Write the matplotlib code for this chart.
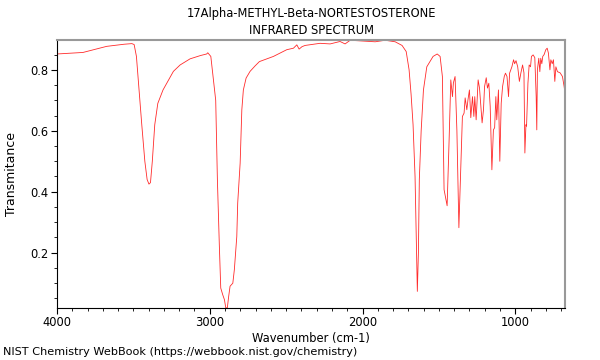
import matplotlib
matplotlib.use("Agg")
import matplotlib.pyplot as plt
from matplotlib.ticker import MultipleLocator

# wavenumber (cm-1) and transmittance
wavenumber = [
    4000, 3830, 3675, 3560, 3510, 3495, 3480, 3463, 3445, 3425, 3410, 3398,
    3388, 3376, 3360, 3340, 3306, 3238, 3194, 3129, 3060, 3020, 3013, 2993,
    2976, 2961, 2950, 2937, 2928, 2915, 2904, 2895, 2885, 2876, 2867, 2849,
    2839, 2823, 2817, 2801, 2790, 2780, 2762, 2736, 2703, 2675, 2659, 2583,
    2496, 2452, 2430, 2415, 2396, 2376, 2278, 2212, 2147, 2114, 2081, 2016,
    1917, 1852, 1786, 1741, 1714, 1695, 1682, 1669, 1656, 1646, 1641, 1634,
    1628, 1616, 1601, 1579, 1538, 1511, 1492, 1477, 1466, 1446, 1433, 1422,
    1411, 1405, 1394, 1382, 1369, 1356, 1346, 1335, 1328, 1317, 1310, 1300,
    1291, 1280, 1271, 1265, 1256, 1243, 1234, 1225, 1217, 1208, 1201, 1190,
    1182, 1173, 1164, 1153, 1143, 1135, 1127, 1121, 1110, 1101, 1092, 1083,
    1072, 1064, 1054, 1044, 1037, 1022, 1011, 1004, 995, 984, 973, 963,
    952, 943, 937, 930, 926, 917, 909, 900, 894, 883, 872, 863,
    859, 855, 846, 839, 833, 826, 820, 811, 800, 791, 783, 773,
    767, 758, 750, 741, 734, 724, 706, 691, 680, 673,
]
transmittance = [
    0.852, 0.857, 0.877, 0.884, 0.886, 0.883, 0.844, 0.734, 0.62, 0.50, 0.44, 0.425,
    0.43, 0.50, 0.62, 0.69, 0.734, 0.795, 0.816, 0.836, 0.847, 0.852, 0.856, 0.844,
    0.767, 0.70, 0.44, 0.22, 0.084, 0.062, 0.046, 0.019, 0.019, 0.057, 0.09, 0.10,
    0.144, 0.253, 0.363, 0.494, 0.669, 0.734, 0.773, 0.795, 0.813, 0.827, 0.83, 0.844,
    0.866, 0.871, 0.882, 0.868, 0.876, 0.88, 0.887, 0.885, 0.893, 0.885, 0.897, 0.895,
    0.892, 0.897, 0.892, 0.88, 0.86, 0.80, 0.72, 0.62, 0.45, 0.20, 0.073, 0.20,
    0.44, 0.60, 0.734, 0.81, 0.844, 0.852, 0.844, 0.778, 0.407, 0.354, 0.57, 0.767,
    0.712, 0.757, 0.778, 0.60, 0.282, 0.49, 0.647, 0.658, 0.708, 0.669, 0.70, 0.734,
    0.643, 0.712, 0.647, 0.712, 0.636, 0.767, 0.74, 0.68, 0.626, 0.669, 0.745, 0.774,
    0.74, 0.756, 0.68, 0.472, 0.603, 0.61, 0.712, 0.636, 0.734, 0.50, 0.69, 0.745,
    0.778, 0.789, 0.778, 0.712, 0.789, 0.81, 0.833, 0.82, 0.83, 0.81, 0.762, 0.79,
    0.816, 0.79, 0.527, 0.62, 0.615, 0.756, 0.816, 0.81, 0.844, 0.849, 0.84, 0.712,
    0.603, 0.80, 0.838, 0.794, 0.838, 0.82, 0.844, 0.85, 0.866, 0.871, 0.855, 0.80,
    0.833, 0.82, 0.833, 0.762, 0.81, 0.794, 0.79, 0.778, 0.745, 0.718,
]

title = "17Alpha-METHYL-Beta-NORTESTOSTERONE\nINFRARED SPECTRUM"
footer = "NIST Chemistry WebBook (https://webbook.nist.gov/chemistry)"

fig = plt.figure(figsize=(6, 3.6), dpi=100)
ax = fig.add_axes([0.095, 0.144, 0.847, 0.745])

ax.plot(wavenumber, transmittance, color="#ff2a2a", linewidth=0.6)

ax.set_xlim(4000, 673)
ax.set_ylim(0.018, 0.898)
ax.xaxis.set_major_locator(MultipleLocator(1000))
ax.xaxis.set_minor_locator(MultipleLocator(100))
ax.yaxis.set_major_locator(MultipleLocator(0.2))
ax.yaxis.set_minor_locator(MultipleLocator(0.05))
ax.tick_params(which="both", direction="out", labelsize=8.3, pad=2,
               top=False, right=False)
ax.tick_params(which="major", length=4)
ax.tick_params(which="minor", length=2.5)

for side in ("top", "right"):
    ax.spines[side].set_color("#999999")
    ax.spines[side].set_linewidth(1.5)

ax.set_xlabel("Wavenumber (cm-1)", fontsize=8.3, labelpad=1.5)
ax.set_ylabel("Transmitance", fontsize=9, labelpad=9)
ax.set_title(title, fontsize=8.3, pad=4, linespacing=1.45)
fig.text(0.005, 0.014, footer, fontsize=8.1, ha="left", va="baseline")

fig.savefig("out.png", dpi=100)
